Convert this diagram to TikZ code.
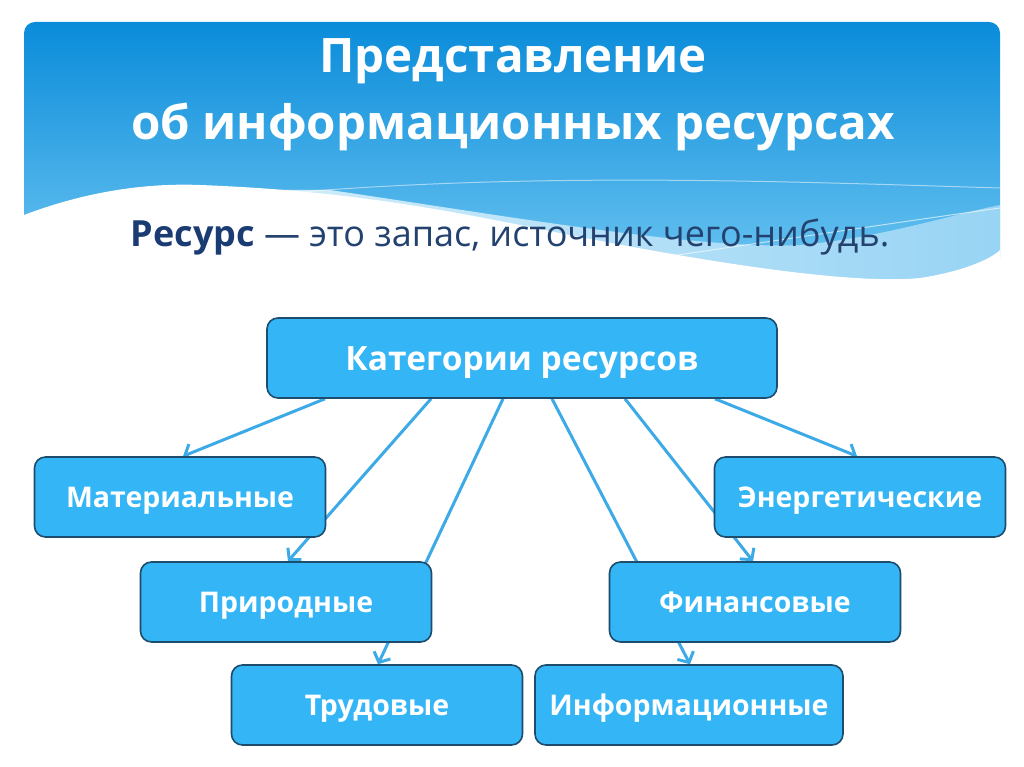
\documentclass[tikz,border=0pt]{standalone}
\usepackage{fontspec}
\setmainfont{Open Sans}
\usepackage{xcolor}
\usetikzlibrary{arrows.meta}
\usetikzlibrary{backgrounds}

\definecolor{bannertop}{HTML}{0A8CDA}
\definecolor{bannerbot}{HTML}{74C9F3}
\definecolor{paleleft}{HTML}{D8F0FC}
\definecolor{paleright}{HTML}{98D4F4}
\definecolor{boxfill}{HTML}{33B5F6}
\definecolor{boxedge}{HTML}{1D4C6C}
\definecolor{linkblue}{HTML}{3CAAE6}
\definecolor{navy}{HTML}{1A3C73}
\definecolor{navylight}{HTML}{24426F}

\begin{document}
\begin{tikzpicture}[x=1pt, y=-1pt,
    box/.style={draw=boxedge, line width=1.6pt, fill=boxfill, rounded corners=11pt,
        minimum width=291pt, minimum height=80pt, inner sep=0pt, text=white,
        text height=20.3pt, text depth=0pt,
        font=\fontsize{28.5}{34}\selectfont\bfseries},
    link/.style={draw=linkblue, line width=3pt, -{Straight Barb[length=8pt,width=18pt]}},
    heading/.style={anchor=base, text=white, font=\fontsize{47.5}{56}\selectfont\bfseries}]
    \useasboundingbox (0,0) rectangle (1024,767);

    \node[heading] (head1) at (513,73) {Представление};
    \node[heading] (head2) at (513,140) {об информационных ресурсах};
    \node[anchor=base, text=navylight, font=\fontsize{36}{44}\selectfont] (def) at (510,247)
        {\textcolor{navy}{\textbf{Ресурс}} — это запас, источник чего-нибудь.};

    \node[box, minimum width=510pt, text height=24pt, font=\fontsize{33.5}{40}\selectfont\bfseries] (cat) at (522,358) {Категории ресурсов};
    \node[box] (mat) at (180,497) {Материальные};
    \node[box] (ene) at (860,497) {Энергетические};
    \node[box] (pri) at (286,602) {Природные};
    \node[box] (fin) at (755,602) {Финансовые};
    \node[box] (tru) at (377,705) {Трудовые};
    \node[box, minimum width=308pt] (inf) at (689,705) {Информационные};

    \begin{pgfonlayer}{background}
    \shade[top color=bannertop, bottom color=bannerbot]
        (24,300) [rounded corners=11pt]-- (24,22) -- (1000,22) [sharp corners]-- (1000,300) -- cycle;
    \shade[left color=paleleft, right color=paleright]
        (150,190) -- (330,190) .. controls (500,215) and (700,250) .. (800,245)
        .. controls (880,238) and (950,215) .. (1000,205) -- (1000,300) -- (150,300) -- cycle;
    \fill[white] (24,215) .. controls (90,190) and (150,183) .. (200,185)
        .. controls (330,190) and (420,205) .. (520,225)
        .. controls (700,262) and (850,285) .. (920,278)
        .. controls (960,272) and (990,260) .. (1000,250) -- (1004,310) -- (20,310) -- cycle;
    \draw[white, opacity=0.5, line width=1pt] (300,192) .. controls (550,172) and (800,182) .. (1000,188);
    \draw[white, opacity=0.6, line width=1pt] (630,262) .. controls (780,240) and (900,222) .. (1000,208);

    \draw[link] ([xshift=-197pt]cat.south) -- ([xshift=3pt]mat.north);
    \draw[link] ([xshift=-91pt]cat.south) -- ([xshift=2pt]pri.north);
    \draw[link] ([xshift=-19pt]cat.south) -- ([xshift=1pt]tru.north);
    \draw[link] ([xshift=30pt]cat.south) -- ([xshift=1pt]inf.north);
    \draw[link] ([xshift=103pt]cat.south) -- ([xshift=-2pt]fin.north);
    \draw[link] ([xshift=193pt]cat.south) -- ([xshift=-3pt]ene.north);
    \end{pgfonlayer}
\end{tikzpicture}
\end{document}
